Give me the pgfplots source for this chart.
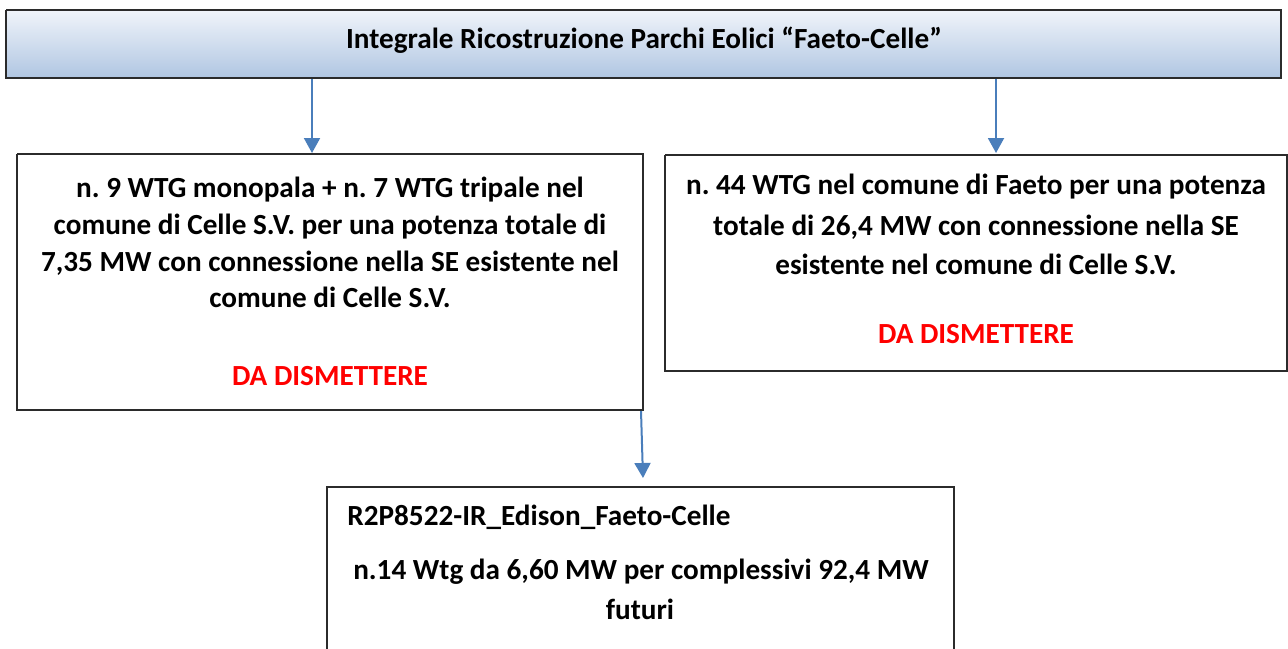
\documentclass[border=0pt]{standalone}
\usepackage{fontspec}
\setmainfont{Carlito}
\usepackage{pgfplots}
\pgfplotsset{compat=1.18}
\usetikzlibrary{arrows.meta}

\definecolor{arrowblue}{HTML}{4A7EBB}
\definecolor{headtop}{HTML}{F0F4FA}
\definecolor{headbot}{HTML}{B0C6E2}
\definecolor{boxline}{HTML}{2B2B2B}

\tikzset{txt/.style={font=\fontsize{14.6}{18}\selectfont\bfseries, anchor=base}}

\begin{document}
\frenchspacing
\begin{tikzpicture}
\begin{axis}[
    width=644pt, height=324pt,
    scale only axis,
    xmin=0, xmax=1288,
    ymin=0, ymax=648,
    y dir=reverse,
    hide axis,
    clip=false,
]

% header box with gradient
\addplot[draw=boxline, line width=0.8pt, top color=headtop, bottom color=headbot]
    coordinates {(6,10) (1281,10) (1281,78) (6,78) (6,10)};

% the three boxes below
\addplot[draw=boxline, line width=0.75pt]
    coordinates {(17,154) (643,154) (643,410) (17,410) (17,154)};
\addplot[draw=boxline, line width=0.75pt]
    coordinates {(665,155) (1287,155) (1287,371) (665,371) (665,155)};
\addplot[draw=boxline, line width=0.75pt]
    coordinates {(327,670) (327,487) (954,487) (954,670)};

% connectors
\addplot[arrowblue, line width=1pt, -{Triangle[width=8pt,length=7.5pt]}]
    coordinates {(312,79) (312,153)};
\addplot[arrowblue, line width=1pt, -{Triangle[width=8pt,length=7.5pt]}]
    coordinates {(996,79) (996,153)};
\addplot[arrowblue, line width=1pt, -{Triangle[width=8pt,length=7.5pt]}]
    coordinates {(641,411) (643,478)};

% texts
\node[txt] at (axis cs:644,48) {Integrale Ricostruzione Parchi Eolici “Faeto-Celle”};

\node[txt] at (axis cs:330,197) {n. 9 WTG monopala + n. 7 WTG tripale nel};
\node[txt] at (axis cs:330,234) {comune di Celle S.V. per una potenza totale di};
\node[txt] at (axis cs:330,271) {7,35 MW con connessione nella SE esistente nel};
\node[txt] at (axis cs:330,307) {comune di Celle S.V.};
\node[txt, text=red] at (axis cs:330,385) {DA DISMETTERE};

\node[txt] at (axis cs:976,194) {n. 44 WTG nel comune di Faeto per una potenza};
\node[txt] at (axis cs:976,235) {totale di 26,4 MW con connessione nella SE};
\node[txt] at (axis cs:976,274) {esistente nel comune di Celle S.V.};
\node[txt, text=red] at (axis cs:976,343) {DA DISMETTERE};

\node[txt, anchor=base west, inner sep=0pt] at (axis cs:347,525) {R2P8522-IR\_Edison\_Faeto-Celle};
\node[txt] at (axis cs:641,579) {n.14 Wtg da 6,60 MW per complessivi 92,4 MW};
\node[txt] at (axis cs:640,619) {futuri};

\coordinate (bbA) at (axis cs:0,648);
\coordinate (bbB) at (axis cs:1288,0);
\end{axis}
\pgfresetboundingbox
\path (bbA) rectangle (bbB);
\end{tikzpicture}
\end{document}
